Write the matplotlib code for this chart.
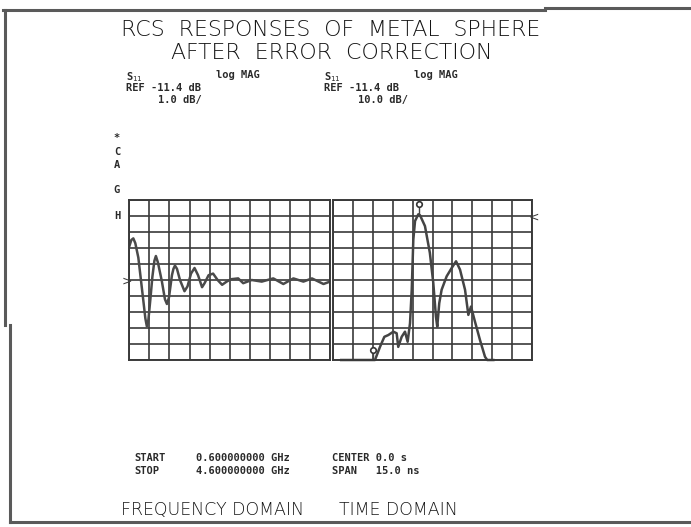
import matplotlib
matplotlib.use("Agg")
import matplotlib.pyplot as plt
from matplotlib.lines import Line2D

W, H = 691, 527

# frequency domain trace, S11 log mag (dB), 1 dB/div, ref -11.4 dB
freq_ghz = [0.60, 0.64, 0.68, 0.72, 0.78, 0.88, 0.92, 0.95, 0.98, 1.02, 1.06, 1.10, 1.13,
            1.17, 1.25, 1.31, 1.35, 1.39, 1.45, 1.48, 1.51, 1.55, 1.61, 1.70, 1.76, 1.83,
            1.90, 1.97, 2.05, 2.10, 2.18, 2.27, 2.36, 2.45, 2.54, 2.63, 2.77, 2.87, 3.04,
            3.24, 3.47, 3.67, 3.87, 4.07, 4.24, 4.47, 4.60]
s11_freq_db = [-9.3, -8.9, -8.8, -9.1, -10.0, -12.7, -13.8, -14.3, -13.9, -12.6, -11.2, -10.2, -9.9,
               -10.3, -11.5, -12.6, -12.9, -12.5, -11.1, -10.7, -10.5, -10.7, -11.4, -12.1, -11.8, -11.0,
               -10.65, -11.1, -11.85, -11.6, -11.1, -11.0, -11.4, -11.7, -11.5, -11.35, -11.3, -11.6, -11.4,
               -11.5, -11.3, -11.65, -11.3, -11.5, -11.3, -11.65, -11.5]

# time domain trace, 10 dB/div, ref -11.4 dB, center 0 s, span 15 ns
time_ns = [-6.9, -4.85, -4.35, -3.97, -3.64, -3.34, -2.96, -2.71, -2.59, -2.33, -2.08,
           -1.88, -1.70, -1.57, -1.45, -1.32, -1.07, -0.94, -0.57, -0.20, 0.06, 0.26,
           0.36, 0.51, 0.69, 1.07, 1.45, 1.78, 2.08, 2.46, 2.71, 2.91, 3.21, 3.59,
           3.97, 4.14, 4.60]
s11_time_db = [-101.4, -101.4, -101.4, -93.2, -86.9, -85.8, -83.7, -84.7, -93.2, -86.9, -83.7,
               -90.0, -78.4, -57.5, -26.1, -14.5, -10.3, -11.0, -17.7, -34.4, -53.3, -74.3,
               -80.6, -65.9, -57.5, -49.1, -43.9, -39.7, -44.9, -57.5, -73.2, -68.0, -77.4, -88.9,
               -99.4, -101.4, -101.4]

marker_t = [-1.0, -4.47]
marker_db = [-4.0, -95.2]

ref_db = -11.4
ink = "#3a3a3a"


def px(x, y):
    return x / W, 1 - y / H


fig = plt.figure(figsize=(W / 100, H / 100), dpi=100)
fig.patch.set_facecolor("white")


def grid_axes(x0, y0, x1, y1):
    ax = fig.add_axes([x0 / W, 1 - y1 / H, (x1 - x0) / W, (y1 - y0) / H])
    ax.set_facecolor("white")
    for s in ax.spines.values():
        s.set_color(ink)
        s.set_linewidth(1.4)
    ax.tick_params(length=0, labelbottom=False, labelleft=False)
    ax.grid(True, color=ink, linewidth=1.2)
    return ax


# left: frequency domain
ax1 = grid_axes(129.3, 200, 330, 360)
ax1.set_xlim(0.6, 4.6)
ax1.set_ylim(ref_db - 5, ref_db + 5)
ax1.set_xticks([0.6 + 0.4 * i for i in range(11)])
ax1.set_yticks([ref_db - 5 + i for i in range(11)])
ax1.plot(freq_ghz, s11_freq_db, color="#4a4a4a", lw=1.8)

# right: time domain
ax2 = grid_axes(333.3, 200, 531.7, 360)
ax2.set_xlim(-7.5, 7.5)
ax2.set_ylim(ref_db - 90, ref_db + 10)
ax2.set_xticks([-7.5 + 1.5 * i for i in range(11)])
ax2.set_yticks([ref_db - 90 + 10 * i for i in range(11)])
ax2.plot(time_ns, s11_time_db, color="#444444", lw=1.8, clip_on=False)
ax2.plot([marker_t[0], marker_t[0]], [marker_db[0], -10.3], color="#444444", lw=1)
ax2.plot([marker_t[1], marker_t[1]], [marker_db[1], -101.4], color="#444444", lw=1)
ax2.plot(marker_t, marker_db, "o", ms=4, mfc="white", mec="#333333", mew=1.2,
         clip_on=False, linestyle="none")

# reference markers
fig.text(*px(127, 281), ">", fontsize=9, color=ink, ha="center", va="center")
fig.text(*px(534, 217), "<", fontsize=9, color=ink, ha="center", va="center")

# titles (plotter font)
fig.text(*px(331, 30), "RCS  RESPONSES  OF  METAL  SPHERE", fontsize=15.8, color="#151515",
         fontweight="light", ha="center", va="center")
fig.text(*px(332, 53), "AFTER  ERROR  CORRECTION", fontsize=15.8, color="#151515",
         fontweight="light", ha="center", va="center")

small = dict(family="DejaVu Sans Mono", fontsize=7.5, fontweight="bold", color="#2a2a2a",
             va="center")
for x0, scale in [(126, "1.0 dB/"), (324, "10.0 dB/")]:
    fig.text(*px(x0, 77), r"S$_{11}$", **small)
    fig.text(*px(x0 + 90, 75), "log MAG", **small)
    fig.text(*px(x0, 88), "REF -11.4 dB", **small)
    fig.text(*px(x0 + (32 if scale == "1.0 dB/" else 34), 100), scale, **small)

for lab, y in [("*", 138), ("C", 152), ("A", 165), ("G", 190), ("H", 216)]:
    fig.text(*px(117, y), lab, **dict(small, ha="center"))

fig.text(*px(134, 458), "START", **small)
fig.text(*px(134, 471), "STOP", **small)
fig.text(*px(196, 458), "0.600000000 GHz", **small)
fig.text(*px(196, 471), "4.600000000 GHz", **small)
fig.text(*px(332, 458), "CENTER 0.0 s", **small)
fig.text(*px(332, 471), "SPAN   15.0 ns", **small)

fig.text(*px(121, 510), "FREQUENCY DOMAIN", fontsize=12.5, color="#151515",
         fontweight="light", va="center")
fig.text(*px(339, 510), "TIME DOMAIN", fontsize=12.5, color="#151515",
         fontweight="light", va="center")

# scan frame
frame = dict(color="#5a5a5a", lw=2.2, transform=fig.transFigure)
for xs, ys in [([3, 545], [10, 10]), ([545, 691], [8, 8]), ([5, 5], [10, 325]),
               ([10, 10], [325, 522]), ([10, 691], [522, 522])]:
    fig.add_artist(Line2D([x / W for x in xs], [1 - y / H for y in ys], **frame))

fig.savefig("out.png", dpi=100)
